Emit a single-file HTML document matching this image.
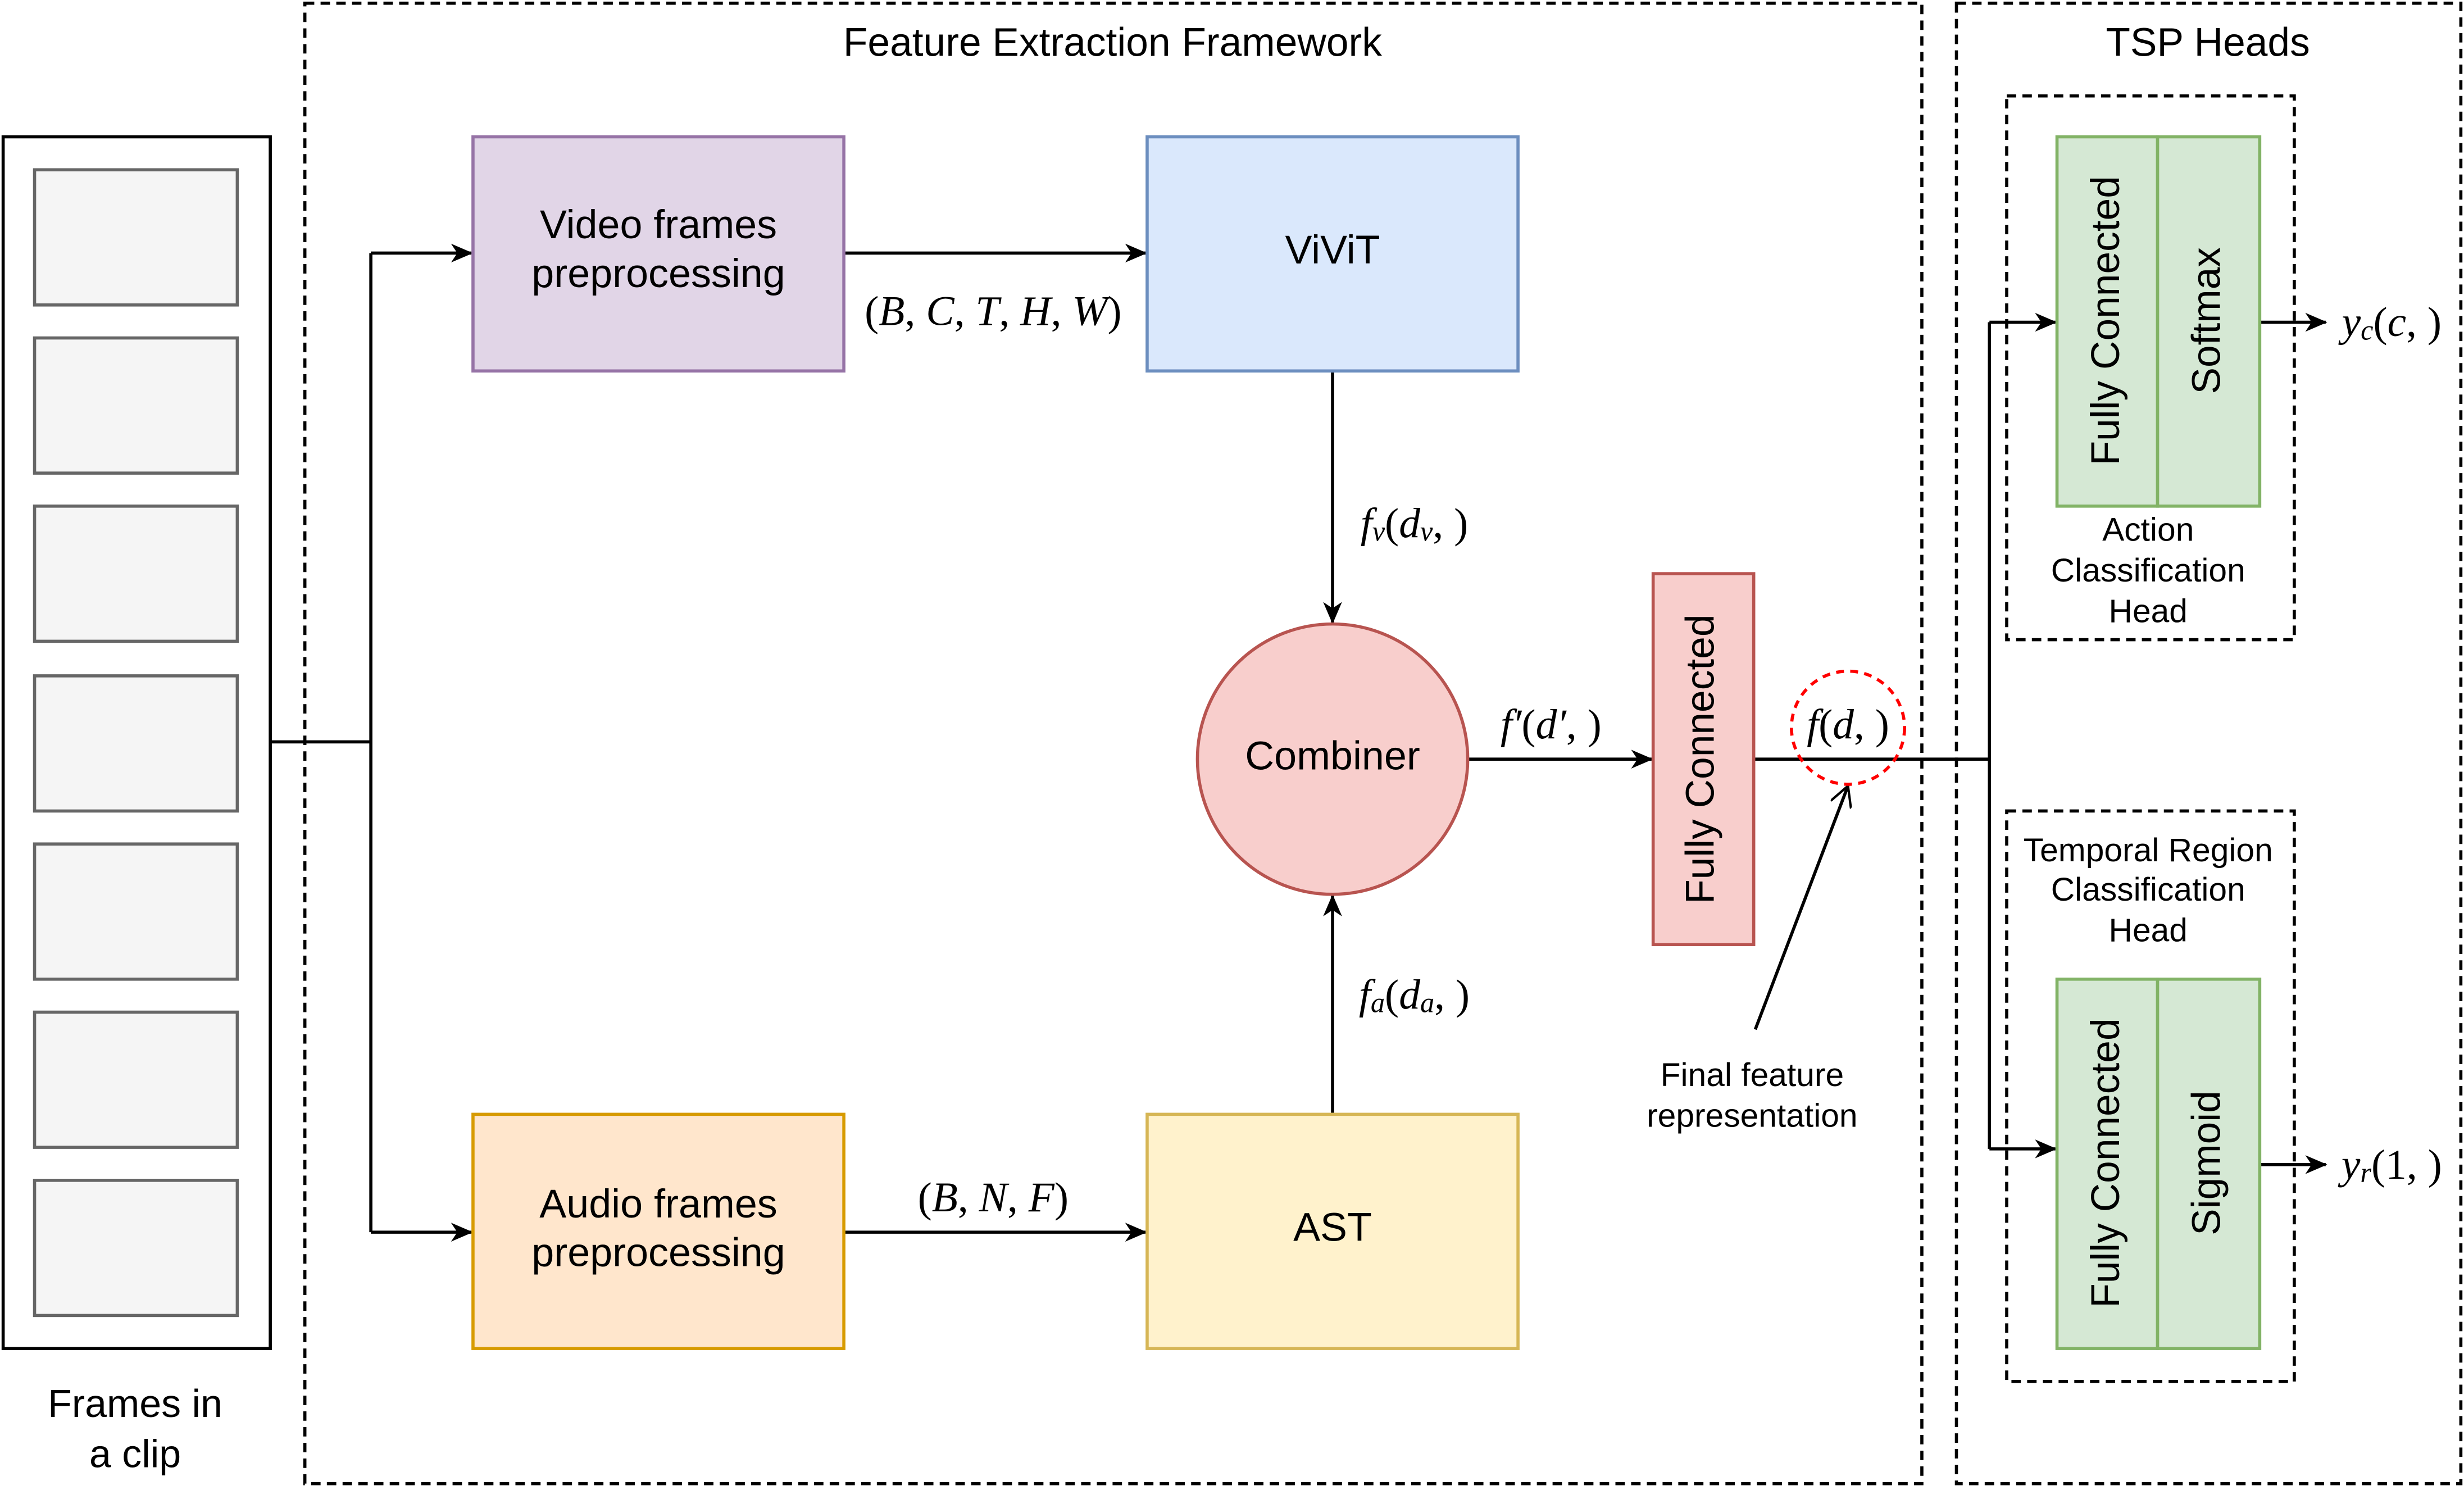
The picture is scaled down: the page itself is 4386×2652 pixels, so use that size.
<!DOCTYPE html>
<html><head><meta charset="utf-8"><style>
html,body{margin:0;padding:0;background:#fff;}
svg{display:block;}
.t{font-family:"Liberation Sans",sans-serif;fill:#000;text-anchor:middle;dominant-baseline:central;}
.m{font-family:"Liberation Serif",serif;font-style:italic;fill:#000;text-anchor:middle;dominant-baseline:central;font-size:27px;}
.mu{font-style:normal;}
</style></head><body>
<svg width="4386" height="2652" viewBox="0 0 1568 948" xmlns="http://www.w3.org/2000/svg">
<defs>
<marker id="ah" markerWidth="14" markerHeight="14" refX="13" refY="7" orient="auto" markerUnits="userSpaceOnUse">
<path d="M0,1 L14,7 L0,13 L4,7 Z" fill="#000"/></marker>
<marker id="ao" markerWidth="14" markerHeight="14" refX="13" refY="7" orient="auto" markerUnits="userSpaceOnUse">
<path d="M0,0 L13,7 L0,14" fill="none" stroke="#000" stroke-width="1.5"/></marker>
</defs>
<rect width="1568" height="948" fill="#fff"/>
<rect x="194" y="2" width="1029" height="942" fill="none" stroke="#000" stroke-width="2" stroke-dasharray="6,4"/>
<text class="t" x="708" y="27" font-size="25.5">Feature Extraction Framework</text>
<rect x="1245" y="2" width="321" height="942" fill="none" stroke="#000" stroke-width="2" stroke-dasharray="6,4"/>
<text class="t" x="1405" y="27" font-size="25.5">TSP Heads</text>
<rect x="2" y="87" width="170" height="771" fill="#fff" stroke="#000" stroke-width="2"/>
<g fill="#f5f5f5" stroke="#666" stroke-width="2">
<rect x="22" y="108" width="129" height="86"/>
<rect x="22" y="215" width="129" height="86"/>
<rect x="22" y="322" width="129" height="86"/>
<rect x="22" y="430" width="129" height="86"/>
<rect x="22" y="537" width="129" height="86"/>
<rect x="22" y="644" width="129" height="86"/>
<rect x="22" y="751" width="129" height="86"/>
</g>
<text class="t" x="86" y="893" font-size="25">Frames in</text>
<text class="t" x="86" y="925" font-size="25">a clip</text>
<g fill="none" stroke="#000" stroke-width="2">
<path d="M172,472 H236 M236,161 V784"/>
<path d="M236,161 H300" marker-end="url(#ah)"/>
<path d="M236,784 H300" marker-end="url(#ah)"/>
<path d="M537,161 H729" marker-end="url(#ah)"/>
<path d="M537,784 H729" marker-end="url(#ah)"/>
<path d="M848,236 V396" marker-end="url(#ah)"/>
<path d="M848,708 V570" marker-end="url(#ah)"/>
<path d="M934,483 H1051" marker-end="url(#ah)"/>
<path d="M1116,483 H1266 M1266,205 V731"/>
<path d="M1266,205 H1308" marker-end="url(#ah)"/>
<path d="M1266,731 H1308" marker-end="url(#ah)"/>
<path d="M1438,205 H1480" marker-end="url(#ah)"/>
<path d="M1438,741 H1480" marker-end="url(#ah)"/>
<path d="M1117,655 L1176,500" marker-end="url(#ao)"/>
</g>
<rect x="301" y="87" width="236" height="149" fill="#e1d5e7" stroke="#9673a6" stroke-width="2"/>
<text class="t" x="419" y="143" font-size="25.7">Video frames</text>
<text class="t" x="419" y="174" font-size="25.7">preprocessing</text>
<rect x="730" y="87" width="236" height="149" fill="#dae8fc" stroke="#6c8ebf" stroke-width="2"/>
<text class="t" x="848" y="159" font-size="25.7">ViViT</text>
<rect x="301" y="709" width="236" height="149" fill="#ffe6cc" stroke="#d79b00" stroke-width="2"/>
<text class="t" x="419" y="766" font-size="25.7">Audio frames</text>
<text class="t" x="419" y="797" font-size="25.7">preprocessing</text>
<rect x="730" y="709" width="236" height="149" fill="#fff2cc" stroke="#d6b656" stroke-width="2"/>
<text class="t" x="848" y="781" font-size="25.7">AST</text>
<circle cx="848" cy="483" r="86" fill="#f8cecc" stroke="#b85450" stroke-width="2"/>
<text class="t" x="848" y="481" font-size="25.7">Combiner</text>
<rect x="1052" y="365" width="64" height="236" fill="#f8cecc" stroke="#b85450" stroke-width="2"/>
<text class="t" font-size="25.5" transform="translate(1082,483) rotate(-90)">Fully Connected</text>
<circle cx="1176" cy="463" r="36" fill="none" stroke="#f00" stroke-width="2" stroke-dasharray="5,4"/>
<text class="m" x="632" y="198"><tspan class="mu">(</tspan>B<tspan class="mu">,  </tspan>C<tspan class="mu">,  </tspan>T<tspan class="mu">,  </tspan>H<tspan class="mu">,  </tspan>W<tspan class="mu">)</tspan></text>
<text class="m" x="632" y="762"><tspan class="mu">(</tspan>B<tspan class="mu">,  </tspan>N<tspan class="mu">,  </tspan>F<tspan class="mu">)</tspan></text>
<text class="m" x="900" y="333">f<tspan font-size="18" dy="5">v</tspan><tspan class="mu" dy="-5">(</tspan>d<tspan font-size="18" dy="5">v</tspan><tspan class="mu" dy="-5">, )</tspan></text>
<text class="m" x="900" y="633">f<tspan font-size="18" dy="5">a</tspan><tspan class="mu" dy="-5">(</tspan>d<tspan font-size="18" dy="5">a</tspan><tspan class="mu" dy="-5">, )</tspan></text>
<text class="m" x="987" y="461">f′<tspan class="mu">(</tspan>d′<tspan class="mu">, )</tspan></text>
<text class="m" x="1176" y="461">f<tspan class="mu">(</tspan>d<tspan class="mu">, )</tspan></text>
<text class="t" x="1115" y="684" font-size="21">Final feature</text>
<text class="t" x="1115" y="710" font-size="21">representation</text>
<rect x="1277" y="61" width="183" height="346" fill="none" stroke="#000" stroke-width="2" stroke-dasharray="6,4"/>
<rect x="1309" y="87" width="64" height="235" fill="#d5e8d4" stroke="#82b366" stroke-width="2"/>
<rect x="1373" y="87" width="65" height="235" fill="#d5e8d4" stroke="#82b366" stroke-width="2"/>
<text class="t" font-size="25.5" transform="translate(1340,204) rotate(-90)">Fully Connected</text>
<text class="t" font-size="25.5" transform="translate(1404,204) rotate(-90)">Softmax</text>
<text class="t" x="1367" y="337" font-size="21">Action</text>
<text class="t" x="1367" y="363" font-size="21">Classification</text>
<text class="t" x="1367" y="389" font-size="21">Head</text>
<text class="m" x="1522" y="205">y<tspan font-size="18" dy="5">c</tspan><tspan class="mu" dy="-5">(</tspan>c<tspan class="mu">, )</tspan></text>
<rect x="1277" y="516" width="183" height="363" fill="none" stroke="#000" stroke-width="2" stroke-dasharray="6,4"/>
<text class="t" x="1367" y="541" font-size="21">Temporal Region</text>
<text class="t" x="1367" y="566" font-size="21">Classification</text>
<text class="t" x="1367" y="592" font-size="21">Head</text>
<rect x="1309" y="623" width="64" height="235" fill="#d5e8d4" stroke="#82b366" stroke-width="2"/>
<rect x="1373" y="623" width="65" height="235" fill="#d5e8d4" stroke="#82b366" stroke-width="2"/>
<text class="t" font-size="25.5" transform="translate(1340,740) rotate(-90)">Fully Connected</text>
<text class="t" font-size="25.5" transform="translate(1404,740) rotate(-90)">Sigmoid</text>
<text class="m" x="1522" y="741">y<tspan font-size="18" dy="5">r</tspan><tspan class="mu" dy="-5">(1, )</tspan></text>
</svg>
</body></html>
